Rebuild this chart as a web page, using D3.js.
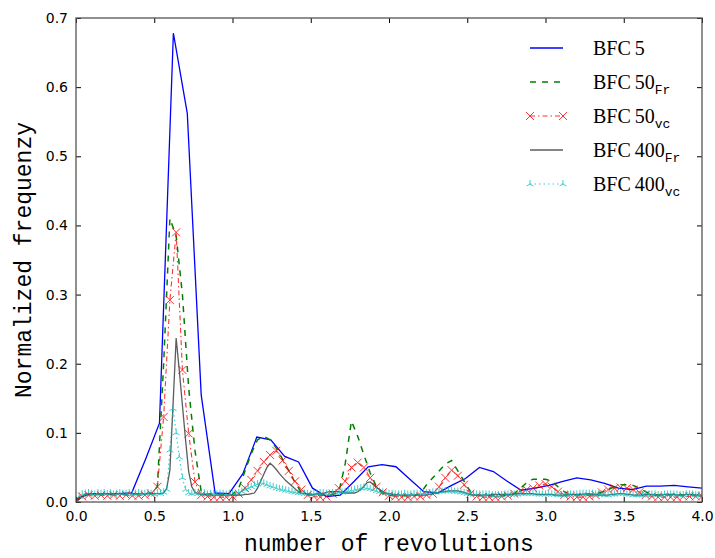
<!DOCTYPE html>
<html>
<head>
<meta charset="utf-8">
<script src="https://cdn.jsdelivr.net/npm/d3@7"></script>
<style>
  body { margin: 0; background: #fff; }
  #chart { width: 715px; height: 558px; }
  .tick text { font-family: "DejaVu Sans", sans-serif; font-size: 14px; fill: #000; }
</style>
</head>
<body>
<div id="chart"></div>
<script>
// sampling steps of the three kinds of runs
const stepBFC5 = 4 / 45;
const stepBFC50 = 0.04;
const stepBFC400 = 0.02;

const xTicks = [0.0, 0.5, 1.0, 1.5, 2.0, 2.5, 3.0, 3.5, 4.0];
const yTicks = [0.0, 0.1, 0.2, 0.3, 0.4, 0.5, 0.6, 0.7];

const bfc5 = [
  0.004, 0.012, 0.012, 0.012, 0.013, 0.062, 0.114, 0.678, 0.562, 0.155,
  0.013, 0.012, 0.041, 0.094, 0.090, 0.066, 0.058, 0.020, 0.008, 0.010,
  0.030, 0.051, 0.054, 0.051, 0.033, 0.015, 0.013, 0.024, 0.034, 0.050,
  0.044, 0.030, 0.017, 0.020, 0.024, 0.030, 0.035, 0.032, 0.027, 0.020,
  0.018, 0.023, 0.023, 0.024, 0.022, 0.020
];

const bfc50Fr = [
  0.002, 0.010, 0.012, 0.012, 0.011, 0.012, 0.012, 0.011, 0.012, 0.012,
  0.012, 0.012, 0.013, 0.022, 0.200, 0.410, 0.385, 0.300, 0.165, 0.075,
  0.015, 0.012, 0.011, 0.011, 0.010, 0.011, 0.020, 0.045, 0.070, 0.090,
  0.095, 0.090, 0.078, 0.062, 0.045, 0.028, 0.014, 0.010, 0.010, 0.010,
  0.010, 0.011, 0.015, 0.055, 0.117, 0.095, 0.068, 0.042, 0.022, 0.012,
  0.010, 0.009, 0.009, 0.009, 0.009, 0.012, 0.025, 0.035, 0.045, 0.055,
  0.060, 0.045, 0.030, 0.015, 0.010, 0.009, 0.009, 0.009, 0.009, 0.010,
  0.012, 0.020, 0.028, 0.033, 0.033, 0.033, 0.030, 0.022, 0.015, 0.011,
  0.010, 0.010, 0.010, 0.012, 0.014, 0.018, 0.022, 0.025, 0.025, 0.024,
  0.020, 0.015, 0.011, 0.010, 0.010, 0.010, 0.010, 0.010, 0.010, 0.010,
  0.010
];

const bfc50vc = [
  0.001, 0.008, 0.010, 0.009, 0.010, 0.009, 0.010, 0.009, 0.010, 0.009,
  0.009, 0.010, 0.012, 0.022, 0.123, 0.292, 0.390, 0.191, 0.099, 0.029,
  0.010, 0.008, 0.007, 0.007, 0.007, 0.008, 0.012, 0.020, 0.032, 0.045,
  0.058, 0.068, 0.074, 0.060, 0.045, 0.030, 0.018, 0.010, 0.008, 0.007,
  0.008, 0.012, 0.020, 0.030, 0.050, 0.057, 0.050, 0.035, 0.022, 0.014,
  0.009, 0.008, 0.007, 0.007, 0.008, 0.008, 0.010, 0.012, 0.022, 0.035,
  0.046, 0.038, 0.025, 0.012, 0.008, 0.007, 0.007, 0.007, 0.008, 0.009,
  0.012, 0.016, 0.018, 0.020, 0.024, 0.026, 0.022, 0.015, 0.010, 0.008,
  0.007, 0.007, 0.008, 0.010, 0.014, 0.018, 0.020, 0.021, 0.020, 0.018,
  0.014, 0.010, 0.008, 0.007, 0.007, 0.007, 0.007, 0.008, 0.008, 0.008,
  0.008
];

const bfc400Fr = [
  0.000, 0.004, 0.008, 0.011, 0.012, 0.012, 0.011, 0.012, 0.012, 0.012,
  0.012, 0.011, 0.012, 0.012, 0.012, 0.011, 0.012, 0.012, 0.012, 0.012,
  0.012, 0.012, 0.011, 0.012, 0.012, 0.012, 0.012, 0.012, 0.013, 0.020,
  0.046, 0.140, 0.237, 0.190, 0.140, 0.090, 0.044, 0.022, 0.014, 0.012,
  0.011, 0.011, 0.010, 0.010, 0.010, 0.010, 0.010, 0.010, 0.010, 0.010,
  0.010, 0.010, 0.010, 0.010, 0.011, 0.011, 0.012, 0.013, 0.020, 0.030,
  0.040, 0.050, 0.056, 0.052, 0.047, 0.041, 0.036, 0.031, 0.027, 0.023,
  0.019, 0.015, 0.013, 0.012, 0.012, 0.011, 0.011, 0.012, 0.012, 0.012,
  0.014, 0.015, 0.015, 0.015, 0.015, 0.014, 0.013, 0.013, 0.013, 0.013,
  0.015, 0.018, 0.023, 0.028, 0.029, 0.025, 0.021, 0.018, 0.015, 0.013,
  0.012, 0.011, 0.011, 0.010, 0.010, 0.010, 0.010, 0.010, 0.010, 0.010,
  0.010, 0.010, 0.010, 0.011, 0.012, 0.013, 0.014, 0.015, 0.015, 0.016,
  0.016, 0.016, 0.016, 0.015, 0.014, 0.012, 0.011, 0.010, 0.010, 0.010,
  0.010, 0.010, 0.010, 0.011, 0.011, 0.011, 0.011, 0.011, 0.011, 0.011,
  0.011, 0.012, 0.012, 0.012, 0.012, 0.012, 0.012, 0.011, 0.011, 0.011,
  0.011, 0.011, 0.011, 0.010, 0.010, 0.010, 0.010, 0.011, 0.011, 0.011,
  0.011, 0.011, 0.011, 0.012, 0.012, 0.011, 0.011, 0.010, 0.010, 0.010,
  0.010, 0.011, 0.011, 0.012, 0.012, 0.012, 0.011, 0.011, 0.010, 0.010,
  0.010, 0.010, 0.011, 0.011, 0.011, 0.010, 0.010, 0.010, 0.011, 0.011,
  0.011, 0.011, 0.010, 0.010, 0.010, 0.011, 0.011, 0.011, 0.010, 0.010,
  0.010
];

const bfc400vc = [
  0.003, 0.008, 0.011, 0.012, 0.013, 0.012, 0.011, 0.013, 0.012, 0.013,
  0.012, 0.013, 0.011, 0.012, 0.013, 0.012, 0.012, 0.013, 0.011, 0.012,
  0.013, 0.012, 0.012, 0.013, 0.012, 0.011, 0.013, 0.012, 0.014, 0.018,
  0.075, 0.135, 0.100, 0.065, 0.035, 0.018, 0.013, 0.012, 0.013, 0.012,
  0.012, 0.013, 0.011, 0.012, 0.012, 0.011, 0.012, 0.012, 0.011, 0.012,
  0.012, 0.012, 0.013, 0.015, 0.018, 0.020, 0.022, 0.024, 0.026, 0.028,
  0.027, 0.025, 0.023, 0.022, 0.020, 0.019, 0.018, 0.017, 0.016, 0.015,
  0.014, 0.013, 0.013, 0.012, 0.012, 0.011, 0.012, 0.012, 0.013, 0.013,
  0.012, 0.012, 0.013, 0.013, 0.014, 0.014, 0.015, 0.016, 0.017, 0.018,
  0.019, 0.020, 0.021, 0.020, 0.019, 0.018, 0.016, 0.015, 0.014, 0.013,
  0.012, 0.012, 0.011, 0.011, 0.011, 0.012, 0.011, 0.011, 0.012, 0.012,
  0.012, 0.012, 0.013, 0.013, 0.014, 0.014, 0.015, 0.015, 0.016, 0.016,
  0.016, 0.015, 0.015, 0.014, 0.013, 0.012, 0.012, 0.011, 0.011, 0.011,
  0.011, 0.011, 0.011, 0.010, 0.010, 0.010, 0.010, 0.011, 0.011, 0.011,
  0.011, 0.011, 0.012, 0.012, 0.012, 0.012, 0.012, 0.012, 0.011, 0.011,
  0.011, 0.011, 0.011, 0.011, 0.010, 0.010, 0.010, 0.011, 0.011, 0.011,
  0.011, 0.012, 0.012, 0.012, 0.012, 0.012, 0.011, 0.011, 0.011, 0.010,
  0.010, 0.011, 0.011, 0.012, 0.012, 0.012, 0.011, 0.011, 0.010, 0.010,
  0.010, 0.010, 0.011, 0.011, 0.011, 0.011, 0.010, 0.010, 0.011, 0.011,
  0.011, 0.011, 0.011, 0.010, 0.010, 0.011, 0.011, 0.011, 0.010, 0.010,
  0.010
];

const series = [
  { name: "BFC\u20095", sub: "", values: bfc5, step: stepBFC5, color: "#0000ff", width: 1.3, dash: null, marker: null },
  { name: "BFC\u200950", sub: "Fr", values: bfc50Fr, step: stepBFC50, color: "#008000", width: 1.5, dash: "6,6", marker: null },
  { name: "BFC\u200950", sub: "vc", values: bfc50vc, step: stepBFC50, color: "#ff0000", width: 1.1, dash: "5,3,1.5,3", marker: "x", opacity: 0.8 },
  { name: "BFC\u2009400", sub: "Fr", values: bfc400Fr, step: stepBFC400, color: "#404040", width: 1.3, dash: null, marker: null, opacity: 0.85 },
  { name: "BFC\u2009400", sub: "vc", values: bfc400vc, step: stepBFC400, color: "#00bfbf", width: 1.2, dash: "1.5,3", marker: "tri", opacity: 0.75 }
];

const margin = { top: 18, right: 13, bottom: 56, left: 76 };
const svgWidth = 715, svgHeight = 558;
const width = svgWidth - margin.left - margin.right;
const height = svgHeight - margin.top - margin.bottom;

const svg = d3.select("#chart").append("svg")
  .attr("width", svgWidth)
  .attr("height", svgHeight);

const g = svg.append("g")
  .attr("transform", "translate(" + margin.left + "," + margin.top + ")");

const x = d3.scaleLinear().domain([0, 4]).range([0, width]);
const y = d3.scaleLinear().domain([0, 0.7]).range([height, 0]);

g.append("clipPath").attr("id", "clip")
  .append("rect").attr("width", width).attr("height", height);

const plot = g.append("g").attr("clip-path", "url(#clip)");

function pointsOf(s) {
  return s.values.map((v, i) => [s.step * i, v]);
}

const line = d3.line().x(d => x(d[0])).y(d => y(d[1]));

function drawMarker(sel, type, color, size) {
  if (type === "x") {
    sel.append("path")
      .attr("d", `M${-size},${-size}L${size},${size}M${-size},${size}L${size},${-size}`)
      .attr("stroke", color).attr("stroke-width", 1).attr("fill", "none");
  } else if (type === "tri") {
    const a = size * 0.87, b = size * 0.5;
    sel.append("path")
      .attr("d", `M0,0L0,${-size}M0,0L${-a},${b}M0,0L${a},${b}`)
      .attr("stroke", color).attr("stroke-width", 1).attr("fill", "none");
  }
}

series.forEach(s => {
  const pts = pointsOf(s);
  const grp = plot.append("g").attr("opacity", s.opacity || 1);
  grp.append("path")
    .datum(pts)
    .attr("fill", "none")
    .attr("stroke", s.color)
    .attr("stroke-width", s.width)
    .attr("stroke-dasharray", s.dash)
    .attr("d", line);
  if (s.marker) {
    grp.selectAll("g.m")
      .data(pts)
      .enter().append("g")
      .attr("class", "m")
      .attr("transform", d => "translate(" + x(d[0]) + "," + y(d[1]) + ")")
      .each(function () { drawMarker(d3.select(this), s.marker, s.color, 4); });
  }
});

// axes, ticks point inward on all four sides
g.append("g")
  .attr("transform", "translate(0," + height + ")")
  .call(d3.axisBottom(x).tickValues(xTicks).tickFormat(d3.format(".1f")).tickSizeInner(-5).tickSizeOuter(0).tickPadding(9))
  .call(a => a.select(".domain").remove());
g.append("g")
  .call(d3.axisLeft(y).tickValues(yTicks).tickFormat(d3.format(".1f")).tickSizeInner(-5).tickSizeOuter(0).tickPadding(8))
  .call(a => a.select(".domain").remove());
g.append("g")
  .call(d3.axisTop(x).tickValues(xTicks).tickFormat("").tickSizeInner(-5).tickSizeOuter(0))
  .call(a => a.select(".domain").remove());
g.append("g")
  .attr("transform", "translate(" + width + ",0)")
  .call(d3.axisRight(y).tickValues(yTicks).tickFormat("").tickSizeInner(-5).tickSizeOuter(0))
  .call(a => a.select(".domain").remove());

g.append("rect")
  .attr("width", width).attr("height", height)
  .attr("fill", "none").attr("stroke", "#555").attr("stroke-width", 1.3);

// axis titles
svg.append("text")
  .attr("x", margin.left + width / 2)
  .attr("y", 551)
  .attr("text-anchor", "middle")
  .style("font-family", "'Liberation Mono', monospace")
  .style("font-size", "23px")
  .text("number of revolutions");

svg.append("text")
  .attr("transform", "translate(31," + (margin.top + height / 2) + ") rotate(-90)")
  .attr("text-anchor", "middle")
  .style("font-family", "'Liberation Mono', monospace")
  .style("font-size", "23px")
  .text("Normalized frequenzy");

// legend, no frame
const legend = svg.append("g").attr("transform", "translate(530,48)");
series.forEach((s, i) => {
  const row = legend.append("g").attr("transform", "translate(0," + (i * 34) + ")");
  const rg = row.append("g").attr("opacity", s.opacity || 1);
  rg.append("line")
    .attr("x1", 0).attr("x2", 33).attr("y1", 0).attr("y2", 0)
    .attr("stroke", s.color).attr("stroke-width", s.width)
    .attr("stroke-dasharray", s.dash);
  if (s.marker) {
    [0, 33].forEach(px => {
      drawMarker(rg.append("g").attr("transform", "translate(" + px + ",0)"), s.marker, s.color, 4);
    });
  }
  const t = row.append("text")
    .attr("x", 63).attr("y", 7)
    .style("font-family", "'Liberation Serif', serif")
    .style("font-size", "20px")
    .text(s.name);
  if (s.sub) {
    t.append("tspan")
      .attr("dy", 5)
      .style("font-family", "'Liberation Mono', monospace")
      .style("font-size", "13px")
      .text(s.sub);
  }
});
</script>
</body>
</html>
